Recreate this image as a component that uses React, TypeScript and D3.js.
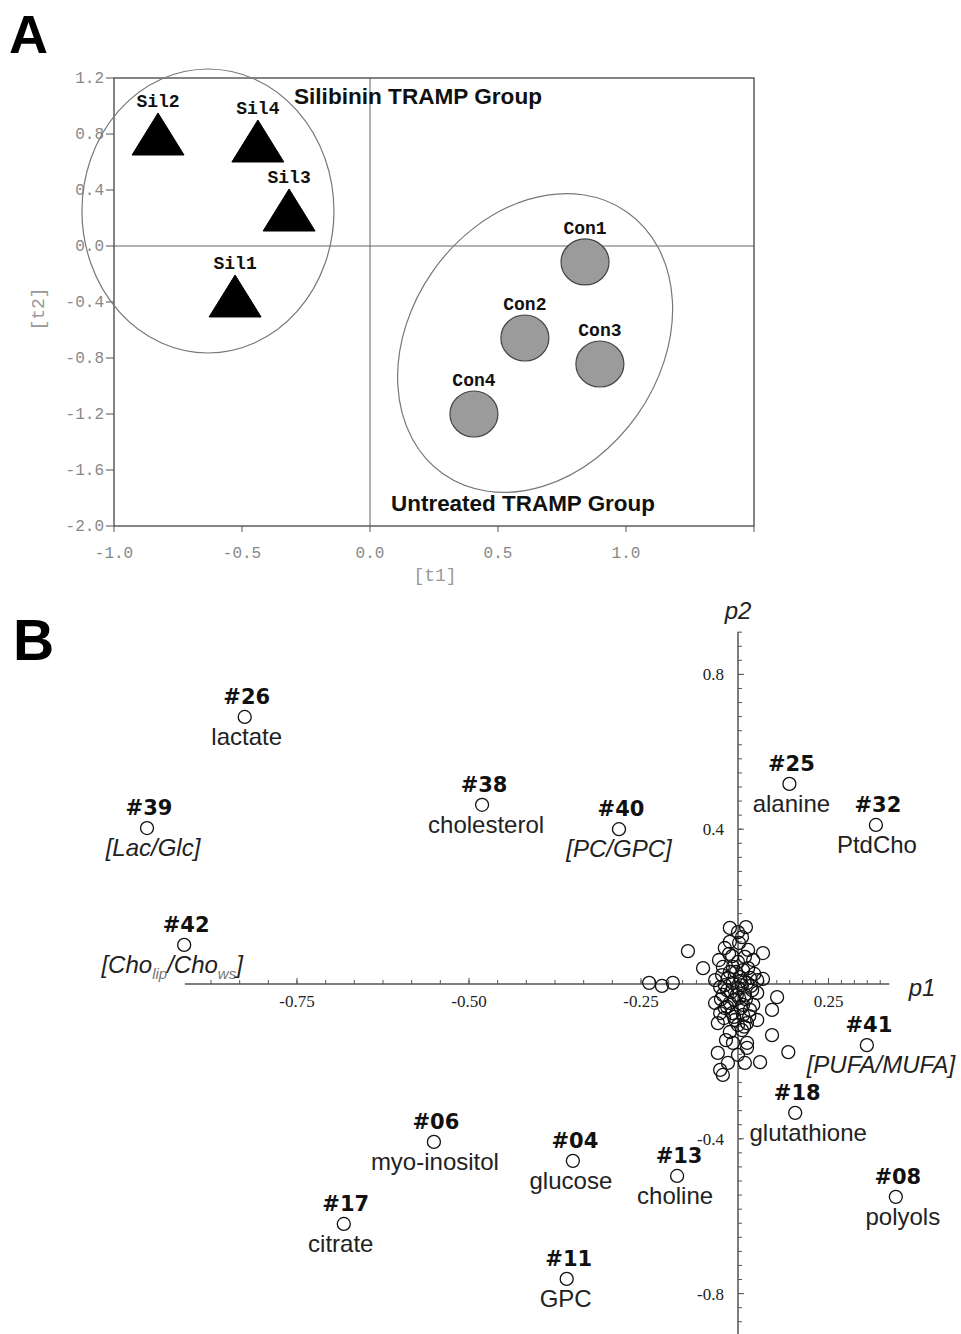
import React from 'react';
import * as d3 from 'd3';

// ---- panel A : PCA scores ----
const SIL_NAMES = ['Sil1', 'Sil2', 'Sil3', 'Sil4'];
const SIL_T1 = [-0.527, -0.828, -0.316, -0.438];
const SIL_T2 = [-0.357, 0.8, 0.257, 0.75];

const CON_NAMES = ['Con1', 'Con2', 'Con3', 'Con4'];
const CON_T1 = [0.84, 0.605, 0.898, 0.406];
const CON_T2 = [-0.114, -0.657, -0.843, -1.2];

const T1_TICKS = [-1.0, -0.5, 0.0, 0.5, 1.0, 1.5];
const T1_LABELS = ['-1.0', '-0.5', '0.0', '0.5', '1.0', ''];
const T2_TICKS = [1.2, 0.8, 0.4, 0.0, -0.4, -0.8, -1.2, -1.6, -2.0];
const T2_LABELS = ['1.2', '0.8', '0.4', '0.0', '-0.4', '-0.8', '-1.2', '-1.6', '-2.0'];

// group ellipses (center in score units)
const GROUP_ELLIPSES = [
  { name: 'Silibinin', cx: -0.633, cy: 0.25, rx: 126, ry: 142, angle: 0 },
  { name: 'Untreated', cx: 0.645, cy: -0.693, rx: 160, ry: 125, angle: -55 },
];

// ---- panel B : loadings ----
const LOAD_IDS = ['#26', '#39', '#38', '#40', '#25', '#32', '#42', '#41', '#18', '#06', '#04', '#13', '#08', '#17', '#11'];
const LOAD_NAMES = ['lactate', '[Lac/Glc]', 'cholesterol', '[PC/GPC]', 'alanine', 'PtdCho', '[Cho_lip/Cho_ws]',
  '[PUFA/MUFA]', 'glutathione', 'myo-inositol', 'glucose', 'choline', 'polyols', 'citrate', 'GPC'];
const LOAD_P1 = [-0.826, -0.968, -0.481, -0.282, 0.142, 0.381, -0.914, 0.356, 0.158, -0.551, -0.349, -0.157, 0.436, -0.682, -0.358];
const LOAD_P2 = [0.69, 0.403, 0.463, 0.4, 0.517, 0.411, 0.101, -0.158, -0.333, -0.408, -0.457, -0.496, -0.55, -0.62, -0.762];

const CLUSTER_P1 = [
  -0.229, -0.196, -0.168, -0.129, -0.09, -0.021, 0.022, 0.0, -0.021, 0.003,
  0.028, 0.069, -0.049, -0.015, 0.042, -0.039, -0.059, -0.021, 0.014, 0.053,
  0.069, -0.046, -0.013, 0.025, -0.039, -0.003, 0.039, 0.053, 0.108, -0.059,
  -0.021, 0.014, 0.042, 0.094, -0.046, -0.015, 0.014, -0.052, -0.008, 0.025,
  0.053, -0.021, 0.011, 0.094, -0.013, 0.025, 0.025, -0.052, 0.019, 0.061,
  -0.026, -0.046, -0.039, 0.139, -0.013, 0.006, -0.028, 0.033, 0.0, 0.019,
  -0.026, -0.008, 0.011, -0.034, 0.033, 0.0, -0.031, 0.0, 0.019, -0.034,
  -0.041, -0.005, 0.028, -0.034, 0.008, 0.036, -0.018, 0.003, -0.044, 0.022,
  -0.028, 0.008, 0.031, -0.01, 0.017, -0.036, 0.0, 0.045, -0.023, 0.011,
];
const CLUSTER_P2 = [
  0.003, -0.005, 0.003, 0.085, 0.041, 0.145, 0.147, 0.134, 0.109, 0.106,
  0.088, 0.08, 0.062, 0.072, 0.062, 0.044, 0.01, 0.031, 0.036, 0.01,
  0.013, -0.008, 0.003, 0.003, -0.028, -0.028, -0.016, -0.023, -0.034, -0.049,
  -0.049, -0.054, -0.054, -0.067, -0.075, -0.075, -0.08, -0.101, -0.093, -0.101,
  -0.093, -0.124, -0.119, -0.132, -0.152, -0.152, -0.165, -0.178, -0.204, -0.202,
  -0.204, -0.222, -0.235, -0.176, 0.044, 0.018, -0.016, 0.016, -0.01, -0.028,
  0.016, -0.041, -0.003, -0.062, -0.067, -0.106, -0.145, -0.183, 0.07, 0.093,
  0.023, 0.031, 0.041, -0.003, 0.008, -0.005, -0.021, -0.036, -0.039, -0.039,
  -0.059, -0.062, -0.083, -0.085, -0.11, -0.088, 0.057, 0.026, 0.078, 0.121,
];

const P1_TICKS = [-0.75, -0.5, -0.25, 0.25];
const P1_LABELS = ['-0.75', '-0.50', '-0.25', '0.25'];
const P2_TICKS = [0.8, 0.4, -0.4, -0.8];
const P2_LABELS = ['0.8', '0.4', '-0.4', '-0.8'];
const P1_EXTENT = [-0.913, 0.418];
const P2_EXTENT = [-0.92, 0.91];

// label nudges (px) so the names sit like in the figure
const NAME_DX: Record<string, number> = {
  '#26': 2, '#39': 6, '#38': 4, '#40': 0, '#25': 2, '#32': 1, '#42': -12, '#41': 14,
  '#18': 13, '#06': 1, '#04': -2, '#13': -2, '#08': 7, '#17': -3, '#11': -1,
};

const W = 961;
const H = 1334;

function ChoLabel({ x, y }: { x: number; y: number }) {
  return (
    <text x={x} y={y} textAnchor="middle" fontFamily="Liberation Sans, Arial, sans-serif" fontStyle="italic" fontSize={24} fill="#222">
      <tspan>[Cho</tspan>
      <tspan fontSize={15} dy={6} fill="#777">lip</tspan>
      <tspan dy={-6}>/Cho</tspan>
      <tspan fontSize={15} dy={6} fill="#777">ws</tspan>
      <tspan dy={-6}>]</tspan>
    </text>
  );
}

export default function App() {
  // panel A scales
  const xA = d3.scaleLinear().domain([-1, 1.5]).range([114, 754]);
  const yA = d3.scaleLinear().domain([-2, 1.2]).range([526, 78]);

  // panel B scales (the published axis is stretched left of -0.25)
  const xB = d3.scaleLinear().domain([-1, -0.25, 0, 0.5]).range([125, 641, 738, 919]);
  const yB = d3.scaleLinear().domain([-1, 1]).range([1371, 597]);

  const monoFont = 'Liberation Mono, Courier New, monospace';
  const sansFont = 'Liberation Sans, Arial, sans-serif';

  // minor ticks for panel B
  const leftMinor = d3.range(-0.25, P1_EXTENT[0], -0.25 / 6);
  const rightMinor = d3.range(-0.25, P1_EXTENT[1], 0.25 / 7);
  const p1Minor = [...leftMinor, ...rightMinor.slice(1)];
  const p2Minor = [
    ...d3.range(0, P2_EXTENT[1], 0.4 / 11),
    ...d3.range(-0.4 / 11, P2_EXTENT[0], -0.4 / 11),
  ];

  const triangle = 'M0,-21L26,21L-26,21Z';

  return (
    <svg width={W} height={H} style={{ position: 'absolute', left: 0, top: 0, background: '#fff' }}>
      {/* ===== panel A ===== */}
      <text x={9} y={53} fontFamily={sansFont} fontWeight="bold" fontSize={54} fill="#000">A</text>

      {/* zero lines */}
      <line x1={xA(0)} x2={xA(0)} y1={yA(1.2)} y2={yA(-2)} stroke="#666" strokeWidth={1} />
      <line x1={xA(-1)} x2={xA(1.5)} y1={yA(0)} y2={yA(0)} stroke="#666" strokeWidth={1} />

      {/* frame */}
      <rect x={xA(-1)} y={yA(1.2)} width={xA(1.5) - xA(-1)} height={yA(-2) - yA(1.2)} fill="none" stroke="#444" strokeWidth={1.3} />

      {/* y ticks */}
      {T2_TICKS.map((t, i) => (
        <g key={'t2' + i}>
          <line x1={xA(-1) - 8} x2={xA(-1)} y1={yA(t)} y2={yA(t)} stroke="#555" strokeWidth={1} />
          <text x={xA(-1) - 10} y={yA(t) + 5} textAnchor="end" fontFamily={monoFont} fontSize={16} fill="#888">{T2_LABELS[i]}</text>
        </g>
      ))}
      {/* x ticks */}
      {T1_TICKS.map((t, i) => (
        <g key={'t1' + i}>
          <line x1={xA(t)} x2={xA(t)} y1={yA(-2)} y2={yA(-2) + 6} stroke="#555" strokeWidth={1} />
          <text x={xA(t)} y={yA(-2) + 32} textAnchor="middle" fontFamily={monoFont} fontSize={16} fill="#888">{T1_LABELS[i]}</text>
        </g>
      ))}
      <text x={435} y={581} textAnchor="middle" fontFamily={monoFont} fontSize={18} fill="#999">[t1]</text>
      <text transform={`translate(44,${yA(-0.45)}) rotate(-90)`} textAnchor="middle" fontFamily={monoFont} fontSize={18} fill="#999">[t2]</text>

      {/* group ellipses */}
      {GROUP_ELLIPSES.map(e => (
        <ellipse key={e.name} cx={0} cy={0} rx={e.rx} ry={e.ry} fill="none" stroke="#777" strokeWidth={1.2}
          transform={`translate(${xA(e.cx)},${yA(e.cy)}) rotate(${e.angle})`} />
      ))}

      {/* silibinin triangles */}
      {SIL_NAMES.map((n, i) => (
        <g key={n} transform={`translate(${xA(SIL_T1[i])},${yA(SIL_T2[i])})`}>
          <path d={triangle} fill="#000" stroke="#000" strokeWidth={1} />
          <text x={0} y={-27} textAnchor="middle" fontFamily={monoFont} fontSize={18} fontWeight="bold" fill="#111">{n}</text>
        </g>
      ))}
      {/* control circles */}
      {CON_NAMES.map((n, i) => (
        <g key={n} transform={`translate(${xA(CON_T1[i])},${yA(CON_T2[i])})`}>
          <ellipse rx={24} ry={23} fill="#9b9b9b" stroke="#444" strokeWidth={1.2} />
          <text x={0} y={-28} textAnchor="middle" fontFamily={monoFont} fontSize={18} fontWeight="bold" fill="#111">{n}</text>
        </g>
      ))}

      <text x={418} y={104} textAnchor="middle" fontFamily={sansFont} fontWeight="bold" fontSize={22} fill="#111"
        textLength={248} lengthAdjust="spacingAndGlyphs">Silibinin TRAMP Group</text>
      <text x={523} y={511} textAnchor="middle" fontFamily={sansFont} fontWeight="bold" fontSize={22} fill="#111"
        textLength={264} lengthAdjust="spacingAndGlyphs">Untreated TRAMP Group</text>

      {/* ===== panel B ===== */}
      <text x={13} y={660} fontFamily={sansFont} fontWeight="bold" fontSize={57} fill="#000">B</text>

      {/* axes */}
      <line x1={xB(P1_EXTENT[0])} x2={xB(P1_EXTENT[1])} y1={yB(0)} y2={yB(0)} stroke="#555" strokeWidth={1.5} />
      <line x1={xB(0)} x2={xB(0)} y1={yB(P2_EXTENT[1])} y2={yB(P2_EXTENT[0])} stroke="#555" strokeWidth={1.5} />

      {p1Minor.map((t, i) => (
        <line key={'p1m' + i} x1={xB(t)} x2={xB(t)} y1={yB(0) - 4} y2={yB(0)} stroke="#555" strokeWidth={1} />
      ))}
      {p2Minor.map((t, i) => (
        <line key={'p2m' + i} x1={xB(0)} x2={xB(0) + 4} y1={yB(t)} y2={yB(t)} stroke="#555" strokeWidth={1} />
      ))}
      {P1_TICKS.map((t, i) => (
        <g key={'p1' + i}>
          <line x1={xB(t)} x2={xB(t)} y1={yB(0) - 6} y2={yB(0)} stroke="#555" strokeWidth={1} />
          <text x={xB(t)} y={yB(0) + 23} textAnchor="middle" fontFamily="Liberation Serif, Times New Roman, serif" fontSize={17} fill="#222">{P1_LABELS[i]}</text>
        </g>
      ))}
      {P2_TICKS.map((t, i) => (
        <g key={'p2' + i}>
          <line x1={xB(0)} x2={xB(0) + 6} y1={yB(t)} y2={yB(t)} stroke="#555" strokeWidth={1} />
          <text x={xB(0) - 14} y={yB(t) + 6} textAnchor="end" fontFamily="Liberation Serif, Times New Roman, serif" fontSize={17} fill="#222">{P2_LABELS[i]}</text>
        </g>
      ))}
      <text x={xB(0)} y={619} textAnchor="middle" fontFamily={sansFont} fontStyle="italic" fontSize={24} fill="#222">p2</text>
      <text x={922} y={996} textAnchor="middle" fontFamily={sansFont} fontStyle="italic" fontSize={24} fill="#222">p1</text>

      {/* unlabelled loadings */}
      {CLUSTER_P1.map((v, i) => (
        <circle key={'c' + i} cx={xB(v)} cy={yB(CLUSTER_P2[i])} r={6.5} fill="none" stroke="#111" strokeWidth={1.3} />
      ))}

      {/* labelled loadings */}
      {LOAD_IDS.map((id, i) => {
        const cx = xB(LOAD_P1[i]);
        const cy = yB(LOAD_P2[i]);
        const name = LOAD_NAMES[i];
        const italic = name.startsWith('[');
        const dx = NAME_DX[id] || 0;
        return (
          <g key={id}>
            <circle cx={cx} cy={cy} r={6.5} fill="#fff" stroke="#111" strokeWidth={1.3} />
            <text x={cx + 2} y={cy - 13} textAnchor="middle" fontFamily="DejaVu Sans, Verdana, sans-serif" fontWeight="bold" fontSize={21} fill="#111">{id}</text>
            {id === '#42' ? (
              <ChoLabel x={cx + dx} y={cy + 28} />
            ) : (
              <text x={cx + dx} y={cy + 28} textAnchor="middle" fontFamily={sansFont} fontStyle={italic ? 'italic' : 'normal'} fontSize={24} fill="#222">{name}</text>
            )}
          </g>
        );
      })}
    </svg>
  );
}
